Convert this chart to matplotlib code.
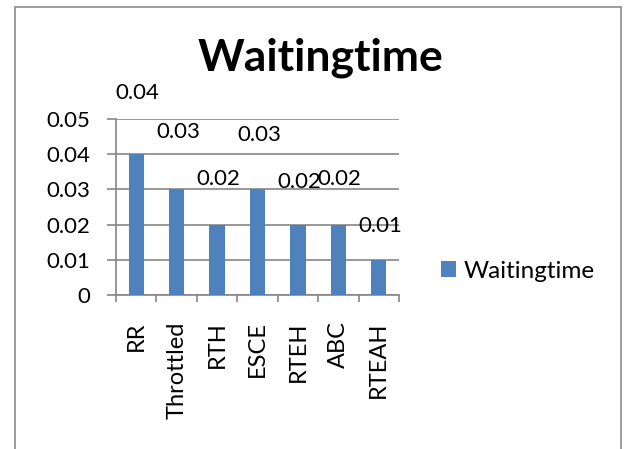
import matplotlib
matplotlib.use("Agg")
import matplotlib.pyplot as plt
from matplotlib.patches import Rectangle

# data
categories = ["RR", "Throttled", "RTH", "ESCE", "RTEH", "ABC", "RTEAH"]
waiting = [0.04, 0.03, 0.02, 0.03, 0.02, 0.02, 0.01]
value_labels = ["0.04", "0.03", "0.02", "0.03", "0.02", "0.02", "0.01"]
yticks = [0, 0.01, 0.02, 0.03, 0.04, 0.05]
ytick_labels = ["0", "0.01", "0.02", "0.03", "0.04", "0.05"]

# how far above each bar excel put its label (points)
label_offsets = [44, 41, 33, 39, 31, 33, 24]

plt.rcParams["font.family"] = ["Lato", "DejaVu Sans"]
GRAY = "#868686"
BLUE = "#4F81BD"

fig = plt.figure(figsize=(6.24, 4.49), dpi=100)
ax = fig.add_axes([116 / 624, 1 - 295 / 449, 283 / 624, 176 / 449])

x = list(range(len(categories)))
bars = ax.bar(x, waiting, width=0.38, color=BLUE, label="Waitingtime", zorder=3)

for xi, v, lab, off in zip(x, waiting, value_labels, label_offsets):
    ax.annotate(lab, (xi, v), xytext=(1, off), textcoords="offset points",
                ha="center", va="center", fontsize=16, annotation_clip=False)

ax.set_xlim(-0.5, len(categories) - 0.5)
ax.set_ylim(0, 0.05)
ax.set_yticks(yticks)
ax.set_yticklabels(ytick_labels)
ax.yaxis.grid(True, color=GRAY, lw=1.2, zorder=0)
ax.set_axisbelow(True)

ax.set_xticks(x)
ax.set_xticklabels(categories, rotation=90)
ax.set_xticks([i - 0.5 for i in range(len(categories) + 1)], minor=True)
ax.tick_params(axis="x", which="major", length=0, pad=19, labelsize=17)
ax.tick_params(axis="x", which="minor", length=5, width=1.2, color=GRAY, direction="out")
ax.tick_params(axis="y", length=6.5, width=1.2, color=GRAY, pad=12, labelsize=16)

for s in ["top", "right"]:
    ax.spines[s].set_visible(False)
for s in ["left", "bottom"]:
    ax.spines[s].set_color(GRAY)
    ax.spines[s].set_linewidth(1.2)

fig.text(320 / 624, 1 - 58 / 449, "Waitingtime", ha="center", va="center",
         fontsize=32, fontweight="bold")

fig.legend(handles=[bars], labels=["Waitingtime"], loc="center left",
           bbox_to_anchor=(424 / 624, 1 - 271 / 449), frameon=False,
           fontsize=17.5, handlelength=0.62, handleheight=0.62, handletextpad=0.3,
           borderpad=0.2)

fig.patches.append(Rectangle((14.7 / 624, -0.1), (621 - 14.7) / 624, 1.1 - 6.7 / 449,
                             transform=fig.transFigure, fill=False,
                             edgecolor="#8c8c8c", lw=1.2))

fig.savefig("out.png", dpi=100)
